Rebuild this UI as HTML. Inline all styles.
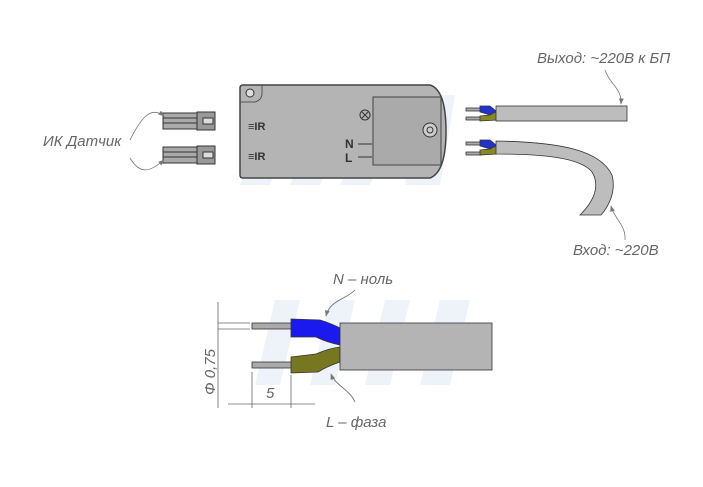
<!DOCTYPE html>
<html><head><meta charset="utf-8"><style>body{margin:0;background:#fff}svg{display:block}text{font-family:"Liberation Sans",sans-serif}</style></head><body>
<svg width="703" height="487" viewBox="0 0 703 487" xmlns="http://www.w3.org/2000/svg">
<defs><marker id="a" markerWidth="8" markerHeight="6" refX="7" refY="3" orient="auto"><path d="M0,0 L8,3 L0,6Z" fill="#777"/></marker></defs>
<g fill="#eef3f9">
<polygon points="270,110 300,110 270,185 240,185"/><polygon points="320,110 350,110 320,185 290,185"/><polygon points="370,110 400,110 370,185 340,185"/><polygon points="420,95 455,95 440,185 405,185"/>
<polygon points="275,300 300,300 280,385 255,385"/><polygon points="330,300 355,300 335,385 310,385"/><polygon points="385,300 410,300 390,385 365,385"/><polygon points="440,300 470,300 450,385 420,385"/>
</g>
<g stroke="#333" stroke-width="1">
<rect x="163" y="113" width="34" height="16" fill="#aaa"/><line x1="163" y1="118" x2="197" y2="118"/><line x1="163" y1="123" x2="197" y2="123"/>
<rect x="197" y="112" width="18" height="18" fill="#999"/><rect x="203" y="118" width="10" height="6" fill="#ddd"/>
<rect x="163" y="147" width="34" height="16" fill="#aaa"/><line x1="163" y1="152" x2="197" y2="152"/><line x1="163" y1="157" x2="197" y2="157"/>
<rect x="197" y="146" width="18" height="18" fill="#999"/><rect x="203" y="152" width="10" height="6" fill="#ddd"/>
</g>
<g fill="none" stroke="#777" stroke-width="0.8">
<path d="M130,140 C140,120 150,105 164,116" marker-end="url(#a)"/><path d="M130,158 C140,175 150,172 164,160" marker-end="url(#a)"/>
</g>
<text x="43" y="146" font-size="15" font-style="italic" fill="#666">ИК Датчик</text>
<path d="M243,85 L430,85 Q446,90 446,131 Q446,172 430,178 L243,178 Q240,178 240,175 L240,88 Q240,85 243,85Z" fill="#b4b4b4" stroke="#444" stroke-width="1.5"/>
<path d="M240,102 L255,102 Q262,100 262,93 L262,85" fill="none" stroke="#555"/>
<circle cx="250" cy="93" r="4" fill="#ddd" stroke="#333"/>
<rect x="373" y="97" width="68" height="68" fill="#aaa" stroke="#444"/>
<circle cx="430" cy="130" r="7" fill="#ccc" stroke="#333"/><circle cx="430" cy="130" r="3" fill="none" stroke="#333"/>
<circle cx="365" cy="115" r="5" fill="none" stroke="#333"/><path d="M362,112 l6,6 M368,112 l-6,6" stroke="#333"/>
<text x="248" y="130" font-size="11" font-weight="bold" fill="#333">≡IR</text>
<text x="248" y="160" font-size="11" font-weight="bold" fill="#333">≡IR</text>
<text x="345" y="148" font-size="12" font-weight="bold" fill="#333">N</text>
<text x="345" y="162" font-size="12" font-weight="bold" fill="#333">L</text>
<g stroke="#333"><line x1="358" y1="144" x2="372" y2="144"/><line x1="358" y1="157" x2="372" y2="157"/></g>
<g stroke="#333" stroke-width="0.8">
<rect x="466" y="108" width="16" height="3" fill="#aaa"/><rect x="466" y="117" width="16" height="3" fill="#aaa"/>
<path d="M480,106 L490,106 Q495,110 497,112 L497,117 L480,112Z" fill="#2233cc"/>
<path d="M480,116 L490,115 Q495,112 497,112 L497,120 L480,121Z" fill="#888822"/>
<rect x="496" y="106" width="131" height="15" fill="#bdbdbd"/>
<rect x="466" y="142" width="16" height="3" fill="#aaa"/><rect x="466" y="152" width="16" height="3" fill="#aaa"/>
<path d="M480,140 L490,140 Q495,144 497,146 L497,151 L480,146Z" fill="#2233cc"/>
<path d="M480,150 L490,149 Q495,146 497,146 L497,154 L480,155Z" fill="#888822"/>
<path d="M496,141 C560,142 600,150 612,175 C616,190 610,205 601,215 L580,215 C595,200 600,185 592,172 C580,157 540,154 496,154Z" fill="#bdbdbd"/>
</g>
<g fill="none" stroke="#777" stroke-width="0.8"><path d="M605,70 C610,85 622,88 621,104" marker-end="url(#a)"/><path d="M625,240 C626,225 615,220 611,206" marker-end="url(#a)"/></g>
<text x="537" y="63" font-size="15" font-style="italic" fill="#666">Выход: ~220В к БП</text>
<text x="573" y="255" font-size="15" font-style="italic" fill="#666">Вход: ~220В</text>
<g stroke="#333" stroke-width="0.8">
<rect x="252" y="323" width="40" height="6" fill="#aaa"/><rect x="252" y="362" width="40" height="6" fill="#aaa"/>
<path d="M291,319 L320,320 Q330,323 340,328 L340,345 Q326,342 316,337 L291,337Z" fill="#1a1aee"/>
<path d="M291,357 L316,354 Q330,348 340,347 L340,362 Q328,366 318,372 L291,373Z" fill="#777722"/>
<rect x="340" y="323" width="152" height="47" fill="#b4b4b4"/>
</g>
<g stroke="#666" stroke-width="0.8" fill="none">
<line x1="218" y1="302" x2="218" y2="408"/><line x1="218" y1="323" x2="250" y2="323"/><line x1="218" y1="329" x2="250" y2="329"/>
<line x1="228" y1="404" x2="315" y2="404"/><line x1="252" y1="372" x2="252" y2="408"/><line x1="291" y1="375" x2="291" y2="408"/>
<path d="M355,290 C345,300 330,300 326,316" marker-end="url(#a)"/><path d="M355,402 C350,390 335,385 331,374" marker-end="url(#a)"/>
</g>
<text transform="translate(215,395) rotate(-90)" font-size="15" font-style="italic" fill="#666">Φ 0,75</text>
<text x="266" y="398" font-size="15" font-style="italic" fill="#666">5</text>
<text x="333" y="284" font-size="15" font-style="italic" fill="#666">N – ноль</text>
<text x="326" y="427" font-size="15" font-style="italic" fill="#666">L – фаза</text>
</svg>
</body></html>
